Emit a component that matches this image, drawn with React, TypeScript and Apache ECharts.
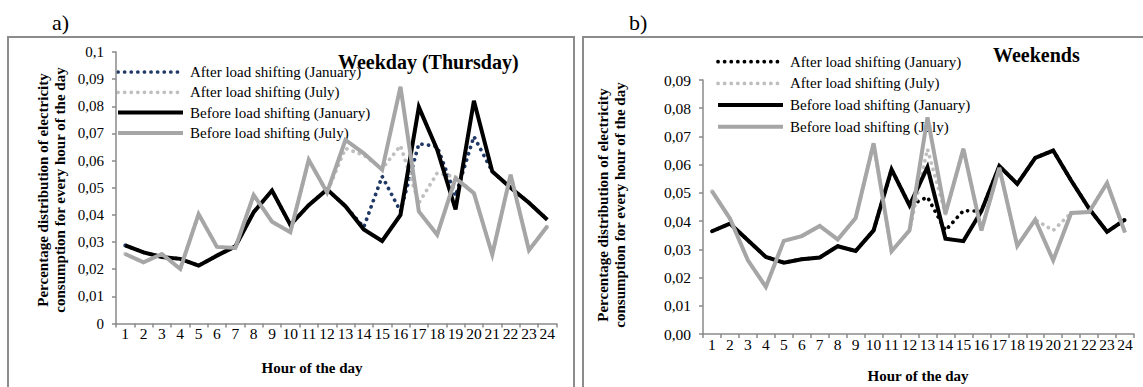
import React, { useEffect, useRef } from "react";
import * as echarts from "echarts";

const hours = ["1","2","3","4","5","6","7","8","9","10","11","12","13","14","15","16","17","18","19","20","21","22","23","24"];

const seriesNames = [
  "After load shifting (January)",
  "After load shifting (July)",
  "Before load shifting (January)",
  "Before load shifting (July)",
];

// a) Weekday (Thursday)
const wdAfterJan = [0.0288,0.0262,0.0245,0.0238,0.0213,0.025,0.0284,0.041,0.049,0.0363,0.0436,0.0494,0.0432,0.0355,0.0542,0.0413,0.0662,0.0652,0.047,0.0689,0.056,0.05,0.0445,0.0382];
const wdAfterJul = [0.0256,0.0225,0.0256,0.0201,0.0403,0.0282,0.0278,0.0473,0.0375,0.0336,0.0603,0.0483,0.0645,0.062,0.057,0.0655,0.0444,0.0554,0.054,0.048,0.0254,0.0548,0.027,0.0358];
const wdBeforeJan = [0.0288,0.0262,0.0245,0.0238,0.0213,0.025,0.0284,0.041,0.049,0.0363,0.0436,0.0494,0.0432,0.0346,0.0304,0.040,0.0797,0.064,0.042,0.082,0.056,0.05,0.0445,0.0382];
const wdBeforeJul = [0.0256,0.0225,0.0256,0.0201,0.0403,0.0282,0.0278,0.0473,0.0375,0.0336,0.0603,0.0483,0.0676,0.0627,0.0566,0.0872,0.0413,0.0327,0.0535,0.048,0.0254,0.0548,0.027,0.0358];

// b) Weekends
const weAfterJan = [0.0364,0.0391,0.0332,0.0273,0.0253,0.0265,0.0271,0.0311,0.0294,0.0367,0.0583,0.0456,0.0485,0.0367,0.0437,0.0435,0.0595,0.0532,0.0624,0.065,0.0544,0.0444,0.0362,0.0405];
const weAfterJul = [0.0506,0.0409,0.0261,0.0167,0.033,0.0347,0.0383,0.0335,0.0411,0.0676,0.0293,0.0367,0.0655,0.0426,0.0656,0.0367,0.0589,0.0312,0.0405,0.0367,0.0429,0.0432,0.0535,0.0359];
const weBeforeJan = [0.0364,0.0391,0.0332,0.0273,0.0253,0.0265,0.0271,0.0311,0.0294,0.0367,0.0583,0.0456,0.0591,0.0338,0.0329,0.0435,0.0595,0.0532,0.0624,0.065,0.0544,0.0444,0.0362,0.0405];
const weBeforeJul = [0.0506,0.0409,0.0261,0.0167,0.033,0.0347,0.0383,0.0335,0.0411,0.0676,0.0293,0.0367,0.0768,0.0426,0.0656,0.0367,0.0589,0.0312,0.0405,0.0261,0.0429,0.0432,0.0535,0.0359];

const leftColors = ["#1f3864", "#bfbfbf", "#000000", "#a6a6a6"];
const rightColors = ["#000000", "#bfbfbf", "#000000", "#a6a6a6"];
const kinds: ("dot" | "solid")[] = ["dot", "dot", "solid", "solid"];

const FONT = "'Liberation Serif', 'Times New Roman', serif";
const AXIS_COLOR = "#8a8a8a";
const DOT_DASH = [0.1, 6.5];

function lineStyleFor(kind: "dot" | "solid", color: string) {
  return kind === "dot"
    ? { color, width: 3.7, type: DOT_DASH, cap: "round" }
    : { color, width: 4, type: "solid", cap: "butt", join: "miter" };
}

function legendGraphic(x: number, yTop: number, pitch: number, colors: string[]) {
  const children: any[] = [];
  seriesNames.forEach((name, i) => {
    const y = yTop + i * pitch;
    const dot = kinds[i] === "dot";
    children.push({
      type: "line",
      shape: { x1: x, y1: y, x2: x + 65, y2: y },
      style: dot
        ? { stroke: colors[i], lineWidth: 3.7, lineDash: DOT_DASH, lineCap: "round" }
        : { stroke: colors[i], lineWidth: 4 },
    });
    children.push({
      type: "text",
      x: x + 72,
      y,
      style: { text: name, font: `15px ${FONT}`, fill: "#000", verticalAlign: "middle" },
    });
  });
  return { type: "group", children };
}

function buildOption() {
  const mk = (name: string, data: number[], idx: number, color: string, kind: "dot" | "solid") => ({
    type: "line",
    name,
    data,
    xAxisIndex: idx,
    yAxisIndex: idx,
    symbol: "none",
    silent: true,
    lineStyle: lineStyleFor(kind, color),
    itemStyle: { color },
  });

  const xAxisBase = (gridIndex: number) => ({
    type: "category",
    gridIndex,
    data: hours,
    boundaryGap: true,
    axisLine: { lineStyle: { color: AXIS_COLOR, width: 1.5 } },
    axisTick: { show: true, inside: false, length: 4, lineStyle: { color: AXIS_COLOR, width: 1.5 } },
    axisLabel: { interval: 0, color: "#000", fontFamily: FONT, fontSize: 15.5, margin: 2 },
    splitLine: { show: false },
  });

  const yAxisBase = (gridIndex: number, max: number, fmt: (v: number) => string, fs: number) => ({
    type: "value",
    gridIndex,
    min: 0,
    max,
    interval: 0.01,
    axisLine: { show: true, lineStyle: { color: AXIS_COLOR, width: 1.5 } },
    axisTick: { show: true, inside: false, length: 4, lineStyle: { color: AXIS_COLOR, width: 1.5 } },
    axisLabel: { color: "#000", fontFamily: FONT, fontSize: fs, margin: 12, formatter: fmt },
    splitLine: { show: false },
  });

  const yName = "Percentage distribution of electricity\nconsumption for every hour of the day";
  const wd = [wdAfterJan, wdAfterJul, wdBeforeJan, wdBeforeJul];
  const we = [weAfterJan, weAfterJul, weBeforeJan, weBeforeJul];

  return {
    animation: false,
    backgroundColor: "#fff",
    grid: [
      { left: 116, top: 52, width: 440.5, height: 271.5 },
      { left: 703, top: 80, width: 431, height: 254 },
    ],
    xAxis: [xAxisBase(0), xAxisBase(1)],
    yAxis: [
      yAxisBase(0, 0.1, (v: number) => (v === 0 ? "0" : String(+v.toFixed(2)).replace(".", ",")), 15),
      yAxisBase(1, 0.09, (v: number) => v.toFixed(2).replace(".", ","), 15.5),
    ],
    series: [
      ...wd.map((d, i) => mk(seriesNames[i], d, 0, leftColors[i], kinds[i])),
      ...we.map((d, i) => mk(seriesNames[i] + " (b)", d, 1, rightColors[i], kinds[i])),
    ],
    graphic: [
      { type: "rect", z: -1, shape: { x: 8, y: 37, width: 566, height: 420 }, style: { fill: "none", stroke: "#8c8c8c", lineWidth: 2 } },
      { type: "rect", z: -1, shape: { x: 583, y: 37, width: 620, height: 420 }, style: { fill: "none", stroke: "#8c8c8c", lineWidth: 2 } },
      { type: "text", x: 52, y: 22, style: { text: "a)", font: `22px ${FONT}`, fill: "#000", verticalAlign: "middle" } },
      { type: "text", x: 629, y: 22, style: { text: "b)", font: `22px ${FONT}`, fill: "#000", verticalAlign: "middle" } },
      { type: "text", x: 338, y: 62, style: { text: "Weekday (Thursday)", font: `bold 20px ${FONT}`, fill: "#000", verticalAlign: "middle" } },
      { type: "text", x: 993, y: 55, style: { text: "Weekends", font: `bold 20px ${FONT}`, fill: "#000", verticalAlign: "middle" } },
      { type: "text", x: 312, y: 368, style: { text: "Hour of the day", font: `bold 15px ${FONT}`, fill: "#000", align: "center", verticalAlign: "middle" } },
      { type: "text", x: 918, y: 376, style: { text: "Hour of the day", font: `bold 15px ${FONT}`, fill: "#000", align: "center", verticalAlign: "middle" } },
      { type: "text", x: 51.5, y: 190, rotation: Math.PI / 2, style: { text: yName, font: `bold 15px ${FONT}`, lineHeight: 17, fill: "#000", align: "center", verticalAlign: "middle" } },
      { type: "text", x: 611, y: 205, rotation: Math.PI / 2, style: { text: yName, font: `bold 15px ${FONT}`, lineHeight: 17, fill: "#000", align: "center", verticalAlign: "middle" } },
      legendGraphic(118, 72, 20.3, leftColors),
      legendGraphic(718, 61.7, 21.7, rightColors),
    ],
  };
}

export default function App() {
  const ref = useRef<HTMLDivElement>(null);
  useEffect(() => {
    document.body.style.margin = "0";
    if (!ref.current) return;
    const chart = echarts.init(ref.current, undefined, { renderer: "svg" });
    chart.setOption(buildOption() as any);
    return () => chart.dispose();
  }, []);
  return <div ref={ref} style={{ width: 1143, height: 387 }} />;
}
